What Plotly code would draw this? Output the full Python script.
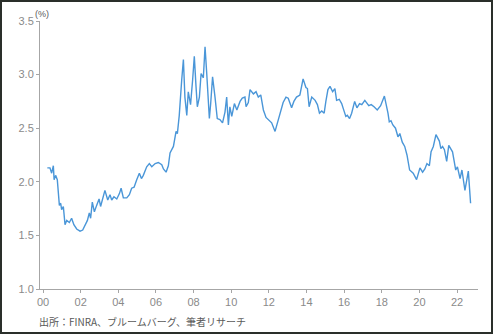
import plotly.graph_objects as go

# x position in years since 2000, value in %
years = [0.23, 0.37, 0.46, 0.55, 0.59, 0.67, 0.76, 0.87, 0.94, 0.99, 1.08, 1.17, 1.26, 1.40, 1.52,
         1.64, 1.79, 1.97, 2.11, 2.23, 2.36, 2.46, 2.53, 2.62, 2.73, 2.85, 2.98, 3.06, 3.20, 3.29,
         3.44, 3.56, 3.65, 3.77, 3.92, 4.06, 4.15, 4.27, 4.45, 4.59, 4.71, 4.84, 4.98, 5.12, 5.23,
         5.33, 5.51, 5.65, 5.78, 5.96, 6.13, 6.31, 6.40, 6.54, 6.66, 6.75, 6.93, 7.07, 7.14, 7.24,
         7.37, 7.46, 7.54, 7.64, 7.72, 7.78, 7.84, 7.95, 8.04, 8.13, 8.20, 8.31, 8.40, 8.52, 8.61,
         8.70, 8.84, 8.91, 9.01, 9.14, 9.26, 9.40, 9.54, 9.67, 9.76, 9.85, 9.93, 10.03, 10.17, 10.30,
         10.47, 10.59, 10.73, 10.79, 10.91, 11.00, 11.18, 11.32, 11.44, 11.57, 11.71, 11.85, 11.98,
         12.15, 12.33, 12.50, 12.64, 12.76, 12.91, 13.03, 13.21, 13.33, 13.47, 13.65, 13.82, 13.97,
         14.05, 14.14, 14.28, 14.46, 14.58, 14.69, 14.81, 14.94, 15.03, 15.14, 15.25, 15.39, 15.51,
         15.60, 15.74, 15.87, 15.96, 16.09, 16.17, 16.29, 16.40, 16.56, 16.68, 16.82, 16.94, 17.10,
         17.31, 17.44, 17.59, 17.76, 17.94, 18.03, 18.14, 18.33, 18.40, 18.49, 18.59, 18.73, 18.86,
         18.96, 19.09, 19.22, 19.34, 19.48, 19.67, 19.85, 20.03, 20.17, 20.29, 20.40, 20.53, 20.62,
         20.74, 20.88, 21.06, 21.14, 21.23, 21.33, 21.45, 21.56, 21.68, 21.76, 21.84, 21.93, 22.02,
         22.16, 22.26, 22.42, 22.60, 22.72, 22.92]
spread = [2.13, 2.13, 2.08, 2.15, 2.02, 2.06, 2.02, 1.78, 1.80, 1.74, 1.77, 1.60, 1.64, 1.62, 1.66,
          1.60, 1.56, 1.54, 1.55, 1.60, 1.64, 1.71, 1.66, 1.81, 1.72, 1.78, 1.84, 1.77, 1.85, 1.92,
          1.83, 1.88, 1.83, 1.86, 1.84, 1.89, 1.94, 1.85, 1.85, 1.88, 1.94, 1.95, 2.02, 2.08, 2.03,
          2.06, 2.14, 2.17, 2.14, 2.17, 2.18, 2.16, 2.12, 2.09, 2.15, 2.27, 2.33, 2.47, 2.45, 2.62,
          2.95, 3.14, 2.79, 2.62, 2.84, 2.78, 2.72, 2.95, 3.17, 2.89, 2.70, 2.79, 3.01, 2.97, 3.26,
          3.01, 2.59, 2.73, 2.98, 2.79, 2.59, 2.58, 2.55, 2.65, 2.79, 2.53, 2.70, 2.61, 2.73, 2.67,
          2.75, 2.78, 2.79, 2.70, 2.74, 2.86, 2.82, 2.84, 2.79, 2.81, 2.67, 2.60, 2.58,
          2.55, 2.47, 2.58, 2.67, 2.74, 2.79, 2.78, 2.69, 2.75, 2.79, 2.81, 2.96, 2.88,
          2.87, 2.70, 2.79, 2.76, 2.72, 2.64, 2.66, 2.64, 2.75, 2.86, 2.89, 2.84, 2.87,
          2.76, 2.77, 2.73, 2.68, 2.61, 2.62, 2.59, 2.64, 2.75, 2.69, 2.73, 2.72, 2.76,
          2.71, 2.72, 2.70, 2.67, 2.71, 2.76, 2.80, 2.64, 2.56, 2.57, 2.53, 2.50, 2.42,
          2.45, 2.37, 2.33, 2.25, 2.11, 2.08, 2.02, 2.13, 2.09, 2.12, 2.17, 2.15, 2.28,
          2.33, 2.44, 2.38, 2.31, 2.33, 2.30, 2.19, 2.34, 2.30, 2.28, 2.20, 2.11, 2.14,
          2.03, 2.11, 1.92, 2.10, 1.80]

x_tick_vals = [0, 2, 4, 6, 8, 10, 12, 14, 16, 18, 20, 22]
x_tick_text = ["00", "02", "04", "06", "08", "10", "12", "14", "16", "18", "20", "22"]
y_tick_vals = [1.0, 1.5, 2.0, 2.5, 3.0, 3.5]
y_tick_text = ["1.0", "1.5", "2.0", "2.5", "3.0", "3.5"]

W, H = 493, 335
L, R, T, B = 40, 15, 21, 46
pw, ph = W - L - R, H - T - B

def px(xp):
    return (xp - L) / pw

def py(yp):
    return (H - B - yp) / ph

fig = go.Figure()
fig.add_trace(go.Scatter(x=years, y=spread, mode="lines",
                         line=dict(color="#4a96d8", width=1.4), hoverinfo="skip"))

axis_col = "#a6a6a6"
fig.update_layout(
    width=W, height=H,
    margin=dict(l=L, r=R, t=T, b=B, pad=0),
    paper_bgcolor="white", plot_bgcolor="white",
    showlegend=False,
    font=dict(family="Liberation Sans, Arial, sans-serif", color="#808080", size=11),
    xaxis=dict(range=[-3 / 18.82, (478 - 43) / 18.82], tickvals=x_tick_vals, ticktext=x_tick_text,
               showgrid=False, zeroline=False, showline=True, linecolor=axis_col, linewidth=1,
               ticks="outside", ticklen=3, tickcolor=axis_col,
               tickfont=dict(size=11, color="#8a8a8a")),
    yaxis=dict(range=[1.0, 3.5], tickvals=y_tick_vals, ticktext=y_tick_text,
               showgrid=False, zeroline=False, showline=True, linecolor=axis_col, linewidth=1,
               ticks="outside", ticklen=3, tickcolor=axis_col,
               tickfont=dict(size=11, color="#8a8a8a")),
    annotations=[
        dict(text="(%)", x=px(33), y=py(14), xref="paper", yref="paper",
             xanchor="left", yanchor="middle", showarrow=False,
             font=dict(size=9, color="#595959")),
        dict(text="出所：FINRA、ブルームバーグ、筆者リサーチ", x=px(37), y=py(321),
             xref="paper", yref="paper", xanchor="left", yanchor="middle", showarrow=False,
             font=dict(size=10, color="#595959", family="Noto Sans CJK JP, sans-serif")),
    ],
    shapes=[
        dict(type="rect", xref="paper", yref="paper",
             x0=px(1), x1=px(492), y0=py(333), y1=py(1),
             line=dict(color="#2a2f2a", width=2), fillcolor="rgba(0,0,0,0)", layer="above"),
    ],
)

fig.write_html("out.html")
